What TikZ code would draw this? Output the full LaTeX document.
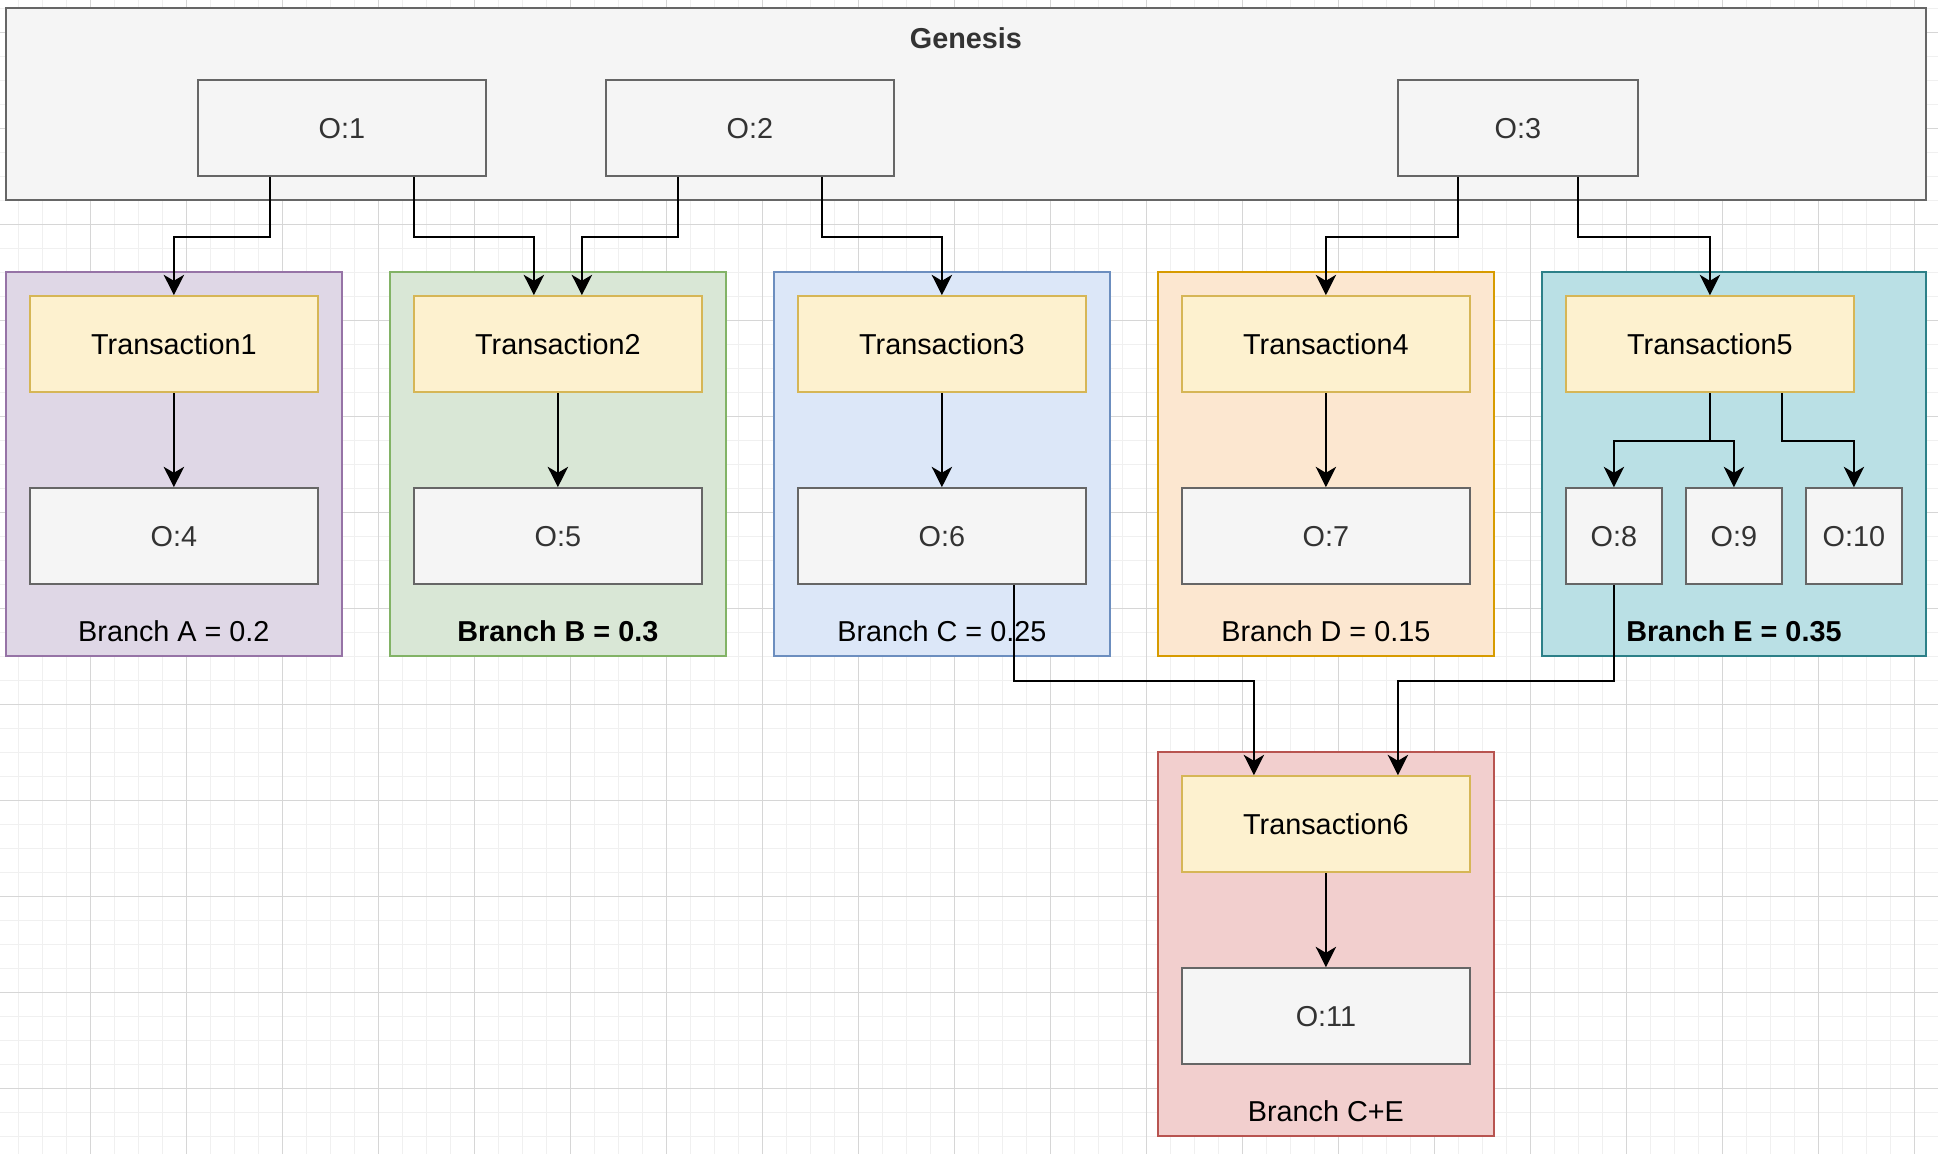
\documentclass[tikz,border=0pt]{standalone}
\usepackage{fontspec}
\setmainfont{Liberation Sans}
\usetikzlibrary{arrows.meta}
% Colours of the diagram
\definecolor{gridMajor}{HTML}{D6D6D6}
\definecolor{gridMinor}{HTML}{F0F0F0}
\definecolor{genFill}{HTML}{F5F5F5}
\definecolor{genLine}{HTML}{666666}
\definecolor{genText}{HTML}{333333}
\definecolor{txFill}{HTML}{FDF1CF}
\definecolor{txLine}{HTML}{D6B656}
\definecolor{fillA}{HTML}{DFD7E6}
\definecolor{lineA}{HTML}{9673A6}
\definecolor{fillB}{HTML}{D9E7D6}
\definecolor{lineB}{HTML}{82B366}
\definecolor{fillC}{HTML}{DCE7F8}
\definecolor{lineC}{HTML}{6C8EBF}
\definecolor{fillD}{HTML}{FCE7D0}
\definecolor{lineD}{HTML}{D79B00}
\definecolor{fillE}{HTML}{BAE0E5}
\definecolor{lineE}{HTML}{2C8088}
\definecolor{fillCE}{HTML}{F2CFCE}
\definecolor{lineCE}{HTML}{B85450}
\tikzset{
  baseBox/.style = {draw, line width=0.9pt, inner sep=0pt, anchor=north west,
                    font=\fontsize{12}{14}\selectfont},
  genBox/.style = {baseBox, fill=genFill, draw=genLine, text=genText},
  outBox/.style = {genBox, minimum width=120pt, minimum height=40pt},
  smallOut/.style = {genBox, minimum width=40pt, minimum height=40pt},
  txBox/.style = {baseBox, fill=txFill, draw=txLine, minimum width=120pt, minimum height=40pt},
  branchBox/.style = {baseBox, minimum height=160pt},
  branchLabel/.style = {inner sep=0pt, font=\fontsize{12}{14}\selectfont},
  flowArrow/.style = {line width=0.85pt, -{Stealth[length=8.5pt,width=8.5pt,inset=2.5pt]}}
}

\begin{document}
\begin{tikzpicture}[x=1pt,y=-1pt]
    \useasboundingbox (0,0) rectangle (807.5,480.8);
    % Background grid
    \begin{scope}
      \clip (0,0) rectangle (807.5,480.8);
      \fill[white] (0,0) rectangle (807.5,480.8);
      \draw[step=10pt,gridMinor,line width=0.4pt,shift={(7.6,3.5)}] (-20,-20) grid (820,500);
      \draw[step=40pt,gridMajor,line width=0.4pt,shift={(37.6,13.5)}] (-40,-40) grid (840,520);
    \end{scope}
    % Genesis block
    \node[genBox, minimum width=800pt, minimum height=80pt] (gen) at (2,3) {};
    \node[text=genText, font=\bfseries\fontsize{12}{14}\selectfont] (genLabel) at ([yshift=-13pt]gen.north) {Genesis};
    % Genesis outputs
    \node[outBox] (o1) at (82,33) {O:1};
    \node[outBox] (o2) at (252,33) {O:2};
    \node[outBox, minimum width=100pt] (o3) at (582,33) {O:3};
    % Branch containers with their labels
    \foreach \br/\xpos/\bwidth/\lbl in {A/2/140/{Branch A = 0.2}, B/162/140/{\textbf{Branch B = 0.3}},
        C/322/140/{Branch C = 0.25}, D/482/140/{Branch D = 0.15}, E/642/160/{\textbf{Branch E = 0.35}}}
    {
      \node[branchBox, fill=fill\br, draw=line\br, minimum width=\bwidth pt] (br\br) at (\xpos,113) {};
      \node[branchLabel] (lbl\br) at ([yshift=11pt]br\br.south) {\lbl};
    }
    % Transactions in the branches
    \foreach \i/\xpos in {1/12,2/172,3/332,4/492,5/652}
    \node[txBox] (t\i) at (\xpos,123) {Transaction\i};
    % Outputs of the branch transactions
    \foreach \i/\xpos in {4/12,5/172,6/332,7/492}
    \node[outBox] (o\i) at (\xpos,203) {O:\i};
    \foreach \i/\xpos in {8/652,9/702,10/752}
    \node[smallOut] (o\i) at (\xpos,203) {O:\i};
    % Merged branch
    \node[branchBox, fill=fillCE, draw=lineCE, minimum width=140pt] (brCE) at (482,313) {};
    \node[branchLabel] (lblCE) at ([yshift=11pt]brCE.south) {Branch C+E};
    \node[txBox] (t6) at (492,323) {Transaction6};
    \node[outBox] (o11) at (492,403) {O:11};
    % Genesis outputs spent by the transactions
    \draw[flowArrow] ([xshift=-30pt]o1.south) -- ++(0,25) -| (t1.north);
    \draw[flowArrow] ([xshift=30pt]o1.south) -- ++(0,25) -| ([xshift=-10pt]t2.north);
    \draw[flowArrow] ([xshift=-30pt]o2.south) -- ++(0,25) -| ([xshift=10pt]t2.north);
    \draw[flowArrow] ([xshift=30pt]o2.south) -- ++(0,25) -| (t3.north);
    \draw[flowArrow] ([xshift=-25pt]o3.south) -- ++(0,25) -| (t4.north);
    \draw[flowArrow] ([xshift=25pt]o3.south) -- ++(0,25) -| (t5.north);
    % Transactions create outputs
    \foreach \t/\o in {1/4,2/5,3/6,4/7,6/11}
    \draw[flowArrow] (t\t) -- (o\o);
    \draw[flowArrow] (t5.south) -- ++(0,20) -| (o8.north);
    \draw[flowArrow] (t5.south) -- ++(0,20) -| (o9.north);
    \draw[flowArrow] ([xshift=30pt]t5.south) -- ++(0,20) -| (o10.north);
    % O:6 and O:8 merged by Transaction6
    \draw[flowArrow] ([xshift=30pt]o6.south) -- ++(0,40) -| ([xshift=-30pt]t6.north);
    \draw[flowArrow] (o8.south) -- ++(0,40) -| ([xshift=30pt]t6.north);
\end{tikzpicture}
\end{document}
